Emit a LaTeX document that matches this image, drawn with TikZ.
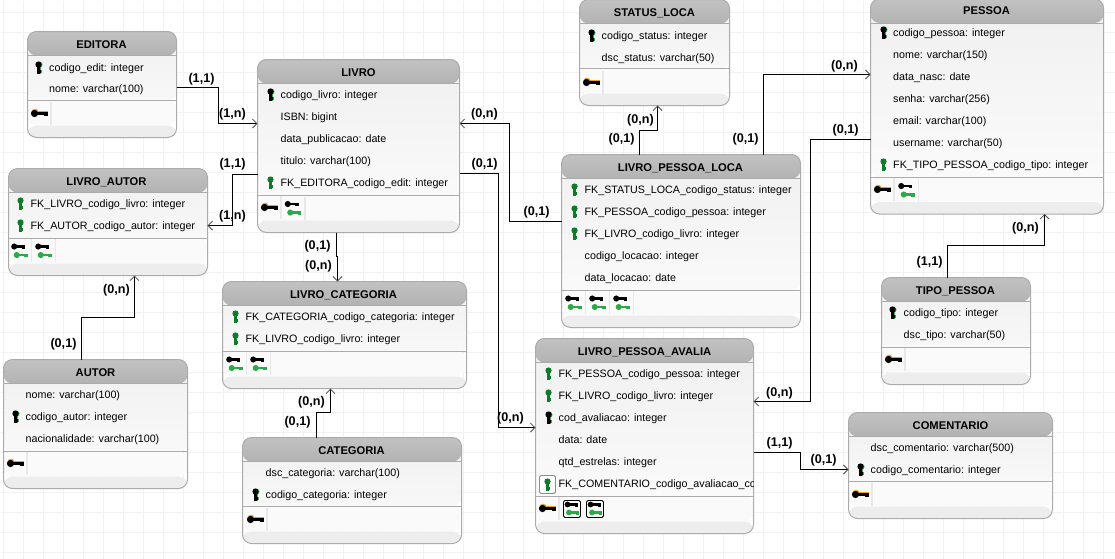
\documentclass[tikz,border=0pt]{standalone}
\usepackage{fontspec}
\setmainfont{Liberation Sans}
\usetikzlibrary{arrows.meta}
\definecolor{gridcol}{HTML}{F2F2F6}
\definecolor{framecol}{HTML}{ABABAB}
\definecolor{keygreen}{HTML}{2DA84A}
\definecolor{keydark}{HTML}{0F7A2A}
\definecolor{keyorange}{HTML}{F0A020}
\tikzset{
  gridline/.style={gridcol,line width=1},
  tablebox/.style={draw=framecol,line width=1,rounded corners=9,inner sep=0,outer sep=0,
    path picture={
      \shade [top color=black!6,bottom color=black!1]
        (path picture bounding box.north west) rectangle ([yshift=37]path picture bounding box.south east);
      \fill [black!2] ([yshift=12]path picture bounding box.south west) rectangle ([yshift=37]path picture bounding box.east |- path picture bounding box.south);
      \fill [black!7] (path picture bounding box.south west) rectangle ([yshift=12]path picture bounding box.south east);
      \shade [top color=black!24,bottom color=black!30]
        (path picture bounding box.north west) rectangle ([yshift=-24]path picture bounding box.north east);
      \draw [framecol,line width=1] ([yshift=-24]path picture bounding box.north west) -- ([yshift=-24]path picture bounding box.north east);
      \draw [framecol,line width=1] ([yshift=37]path picture bounding box.south west) -- ([yshift=37]path picture bounding box.south east);
    }},
  headtext/.style={inner sep=0,yshift=-1,font=\fontsize{11.2}{13}\selectfont\bfseries},
  rowtext/.style={inner sep=0,anchor=west,yshift=-1,text height=7.5,text depth=2,font=\fontsize{10.7}{13}\selectfont},
  cardtext/.style={inner sep=0,yshift=-1,font=\fontsize{12.6}{14}\selectfont\bfseries},
  link/.style={->,>={Straight Barb[length=4.5,width=9,line width=0.8,color=black!70]},line width=1,black},
  % key icons
  hkey/.pic={
    \fill [#1] (-5,0) circle (3.6);
    \fill [#1] (-5,-1.4) rectangle (8,1.4);
    \fill [#1] (4,0) rectangle (8,2.8);
  },
  vkey/.pic={
    \fill [#1] (0,-3) circle (3.1);
    \fill [#1] (-1.3,-3) rectangle (1.3,6);
    \fill [#1] (0,2) rectangle (2.6,5.5);
  },
  pkrow/.pic={
    \pic at (0.9,0.3) {vkey=keygreen};
    \pic at (0,0) {vkey=black};
  },
  fkrow/.pic={\pic at (0,0) {vkey=keydark};},
  pkicon/.pic={
    \fill [black!9] (11.5,-11.5) rectangle (13,11.5);
    \pic at (1.5,-1.2) {hkey=keyorange};
    \pic at (1,0) {hkey=black};
  },
  fkicon/.pic={
    \fill [black!9] (12,-11.5) rectangle (13.5,11.5);
    \pic [scale=0.85] at (0,-4) {hkey=black};
    \pic [scale=0.85] at (2.5,4.5) {hkey=keygreen};
  },
  fkmark/.pic={
    \pic [scale=0.8] at (-0.5,-4.5) {hkey=black};
    \pic [scale=0.8] at (1,3.5) {hkey=keygreen};
    \draw [black,line width=0.9,rounded corners=1.5] (-8.5,-8.5) rectangle (8.5,8.5);
  },
}
\begin{document}
\begin{tikzpicture}[x=1pt,y=-1pt]
  \useasboundingbox (0,0) rectangle (1115,558);
  \fill [white] (0,0) rectangle (1115,558);
\begin{scope}[shift={(0.5,0.5)}]
  \foreach \gridx in {3,23,...,1103} \draw [gridline] (\gridx,0) -- (\gridx,558);
  \foreach \gridy in {12,32,...,552} \draw [gridline] (0,\gridy) -- (1115,\gridy);
  % Node: EDITORA
\begin{scope}
  \node [tablebox,minimum width=149,minimum height=106] (EDITORA) at (101.5,84) {};
  \node [headtext] (EDITORA_head) at (101,43.5) {EDITORA};
  \pic at (38,67) {pkrow};
  \node [rowtext] (EDITORA_1) at (48.5,67) {codigo\_edit: integer};
  \node [rowtext] (EDITORA_2) at (48.5,88.5) {nome: varchar(100)};
  \pic at (38,113) {pkicon};
\end{scope}
  % Node: LIVRO
\begin{scope}
  \node [tablebox,minimum width=202,minimum height=173] (LIVRO) at (358,145.5) {};
  \node [headtext] (LIVRO_head) at (358,71.5) {LIVRO};
  \pic at (270,94) {pkrow};
  \node [rowtext] (LIVRO_1) at (280,94.5) {codigo\_livro: integer};
  \node [rowtext] (LIVRO_2) at (280,116.5) {ISBN: bigint};
  \node [rowtext] (LIVRO_3) at (280,138.5) {data\_publicacao: date};
  \node [rowtext] (LIVRO_4) at (280,160.5) {titulo: varchar(100)};
  \pic at (270,182) {fkrow};
  \node [rowtext] (LIVRO_5) at (280,182.5) {FK\_EDITORA\_codigo\_edit: integer};
  \pic at (268,207) {pkicon};
  \pic at (291.5,207.5) {fkicon};
\end{scope}
  % Node: STATUS_LOCA
\begin{scope}
  \node [tablebox,minimum width=150,minimum height=106] (STATUS_LOCA) at (654,52) {};
  \node [headtext] (STATUS_LOCA_head) at (654,12) {STATUS\_LOCA};
  \pic at (591,35) {pkrow};
  \node [rowtext] (STATUS_LOCA_1) at (601,35.5) {codigo\_status: integer};
  \node [rowtext] (STATUS_LOCA_2) at (601,57.5) {dsc\_status: varchar(50)};
  \pic at (590,82) {pkicon};
\end{scope}
  % Node: PESSOA
\begin{scope}
  \node [tablebox,minimum width=233,minimum height=215] (PESSOA) at (986.5,106) {};
  \node [headtext] (PESSOA_head) at (986,9.5) {PESSOA};
  \pic at (883,32) {pkrow};
  \node [rowtext] (PESSOA_1) at (892.5,32.5) {codigo\_pessoa: integer};
  \node [rowtext] (PESSOA_2) at (892.5,54.5) {nome: varchar(150)};
  \node [rowtext] (PESSOA_3) at (892.5,76.5) {data\_nasc: date};
  \node [rowtext] (PESSOA_4) at (892.5,98.5) {senha: varchar(256)};
  \node [rowtext] (PESSOA_5) at (892.5,120.5) {email: varchar(100)};
  \node [rowtext] (PESSOA_6) at (892.5,142.5) {username: varchar(50)};
  \pic at (883,164) {fkrow};
  \node [rowtext] (PESSOA_7) at (892.5,164.5) {FK\_TIPO\_PESSOA\_codigo\_tipo: integer};
  \pic at (881,189) {pkicon};
  \pic at (905,189.5) {fkicon};
\end{scope}
  % Node: LIVRO_AUTOR
\begin{scope}
  \node [tablebox,minimum width=199,minimum height=107] (LIVRO_AUTOR) at (107.5,221.5) {};
  \node [headtext] (LIVRO_AUTOR_head) at (106,180.5) {LIVRO\_AUTOR};
  \pic at (20,203) {fkrow};
  \node [rowtext] (LIVRO_AUTOR_1) at (30,203.5) {FK\_LIVRO\_codigo\_livro: integer};
  \pic at (20,225) {fkrow};
  \node [rowtext] (LIVRO_AUTOR_2) at (30,225.5) {FK\_AUTOR\_codigo\_autor: integer};
  \pic at (18,250) {fkicon};
  \pic at (42,250) {fkicon};
\end{scope}
  % Node: LIVRO_PESSOA_LOCA
\begin{scope}
  \node [tablebox,minimum width=239,minimum height=173] (LIVRO_PESSOA_LOCA) at (680.5,240.5) {};
  \node [headtext] (LIVRO_PESSOA_LOCA_head) at (680,166.5) {LIVRO\_PESSOA\_LOCA};
  \pic at (574,189) {fkrow};
  \node [rowtext] (LIVRO_PESSOA_LOCA_1) at (584,189.5) {FK\_STATUS\_LOCA\_codigo\_status: integer};
  \pic at (574,211) {fkrow};
  \node [rowtext] (LIVRO_PESSOA_LOCA_2) at (584,211.5) {FK\_PESSOA\_codigo\_pessoa: integer};
  \pic at (574,233) {fkrow};
  \node [rowtext] (LIVRO_PESSOA_LOCA_3) at (584,233.5) {FK\_LIVRO\_codigo\_livro: integer};
  \node [rowtext] (LIVRO_PESSOA_LOCA_4) at (584,255.5) {codigo\_locacao: integer};
  \node [rowtext] (LIVRO_PESSOA_LOCA_5) at (584,277.5) {data\_locacao: date};
  \pic at (572,302) {fkicon};
  \pic at (596,302) {fkicon};
  \pic at (620,302) {fkicon};
\end{scope}
  % Node: LIVRO_CATEGORIA
\begin{scope}
  \node [tablebox,minimum width=244,minimum height=107] (LIVRO_CATEGORIA) at (344,334.5) {};
  \node [headtext] (LIVRO_CATEGORIA_head) at (343,293.5) {LIVRO\_CATEGORIA};
  \pic at (235,316) {fkrow};
  \node [rowtext] (LIVRO_CATEGORIA_1) at (245,316.5) {FK\_CATEGORIA\_codigo\_categoria: integer};
  \pic at (235,338) {fkrow};
  \node [rowtext] (LIVRO_CATEGORIA_2) at (245,338.5) {FK\_LIVRO\_codigo\_livro: integer};
  \pic at (233,363) {fkicon};
  \pic at (257,363) {fkicon};
\end{scope}
  % Node: AUTOR
\begin{scope}
  \node [tablebox,minimum width=184,minimum height=129] (AUTOR) at (95,423.5) {};
  \node [headtext] (AUTOR_head) at (95,371.5) {AUTOR};
  \node [rowtext] (AUTOR_1) at (25,394.5) {nome: varchar(100)};
  \pic at (15,416) {pkrow};
  \node [rowtext] (AUTOR_2) at (25,416.5) {codigo\_autor: integer};
  \node [rowtext] (AUTOR_3) at (25,438.5) {nacionalidade: varchar(100)};
  \pic at (14,463) {pkicon};
\end{scope}
  % Node: CATEGORIA
\begin{scope}
  \node [tablebox,minimum width=219,minimum height=106] (CATEGORIA) at (351.5,490) {};
  \node [headtext] (CATEGORIA_head) at (351,449.5) {CATEGORIA};
  \node [rowtext] (CATEGORIA_1) at (265,472.5) {dsc\_categoria: varchar(100)};
  \pic at (255,494) {pkrow};
  \node [rowtext] (CATEGORIA_2) at (265,494.5) {codigo\_categoria: integer};
  \pic at (254,519) {pkicon};
\end{scope}
  % Node: LIVRO_PESSOA_AVALIA
\begin{scope}
  \node [tablebox,minimum width=218,minimum height=195] (LIVRO_PESSOA_AVALIA) at (644,435.5) {};
  \node [headtext] (LIVRO_PESSOA_AVALIA_head) at (644,350.5) {LIVRO\_PESSOA\_AVALIA};
  \pic at (548,373) {fkrow};
  \node [rowtext] (LIVRO_PESSOA_AVALIA_1) at (558,373.5) {FK\_PESSOA\_codigo\_pessoa: integer};
  \pic at (548,395) {fkrow};
  \node [rowtext] (LIVRO_PESSOA_AVALIA_2) at (558,395.5) {FK\_LIVRO\_codigo\_livro: integer};
  \pic at (548,417) {pkrow};
  \node [rowtext] (LIVRO_PESSOA_AVALIA_3) at (558,417.5) {cod\_avaliacao: integer};
  \node [rowtext] (LIVRO_PESSOA_AVALIA_4) at (558,439.5) {data: date};
  \node [rowtext] (LIVRO_PESSOA_AVALIA_5) at (558,461.5) {qtd\_estrelas: integer};
  \fill [white,draw=black!45,line width=0.8,rounded corners=1.5] (539,475) rectangle (555,493);
  \pic at (547,484) {fkrow};
  \begin{scope}
    \clip (530,472) rectangle (752.5,495);
    \node [rowtext] (LIVRO_PESSOA_AVALIA_6) at (558,483.5) {FK\_COMENTARIO\_codigo\_avaliacao\_codigo};
  \end{scope}
  \pic at (546,508) {pkicon};
  \pic at (571.5,508.5) {fkmark};
  \pic at (594.5,508.5) {fkmark};
\end{scope}
  % Node: TIPO_PESSOA
\begin{scope}
  \node [tablebox,minimum width=149,minimum height=107] (TIPO_PESSOA) at (955.5,330.5) {};
  \node [headtext] (TIPO_PESSOA_head) at (955,289.5) {TIPO\_PESSOA};
  \pic at (892,312) {pkrow};
  \node [rowtext] (TIPO_PESSOA_1) at (903,312.5) {codigo\_tipo: integer};
  \node [rowtext] (TIPO_PESSOA_2) at (903,334.5) {dsc\_tipo: varchar(50)};
  \pic at (892,359) {pkicon};
\end{scope}
  % Node: COMENTARIO
\begin{scope}
  \node [tablebox,minimum width=204,minimum height=106] (COMENTARIO) at (950,465) {};
  \node [headtext] (COMENTARIO_head) at (950,424.5) {COMENTARIO};
  \node [rowtext] (COMENTARIO_1) at (870,447.5) {dsc\_comentario: varchar(500)};
  \pic at (860,469) {pkrow};
  \node [rowtext] (COMENTARIO_2) at (870,469.5) {codigo\_comentario: integer};
  \pic at (859,494) {pkicon};
\end{scope}
  % Edge: EDITORA -> LIVRO
  \draw [link] ([yshift=-3]EDITORA.east) -- ++(42,0) |- ([yshift=22.5]LIVRO.west);
  \node [cardtext] (EDITORA_LIVRO_a) at (201,78) {(1,1)};
  \node [cardtext] (EDITORA_LIVRO_b) at (232,113) {(1,n)};
  % Edge: LIVRO -> LIVRO_AUTOR
  \draw [link] ([yshift=-28.5]LIVRO.west) -- ++(-25,0) |- ([yshift=-3.5]LIVRO_AUTOR.east);
  \node [cardtext] (LIVRO_AUTOR_a) at (232,163) {(1,1)};
  \node [cardtext] (LIVRO_AUTOR_b) at (232,215) {(1,n)};
  % Edge: LIVRO -> LIVRO_CATEGORIA
  \draw [link] ([xshift=-22]LIVRO.south) -- ++(0,24) -- ++(1,0) -- ([xshift=-7]LIVRO_CATEGORIA.north);
  \node [cardtext] (LIVRO_CATEGORIA_a) at (317,245) {(0,1)};
  \node [cardtext] (LIVRO_CATEGORIA_b) at (318,265) {(0,n)};
  % Edge: CATEGORIA -> LIVRO_CATEGORIA
  \draw [link] ([xshift=-36]CATEGORIA.north) -- ++(0,-25) -| ([xshift=-14]LIVRO_CATEGORIA.south);
  \node [cardtext] (CATEGORIA_LINK_a) at (311,401) {(0,n)};
  \node [cardtext] (CATEGORIA_LINK_b) at (297,421) {(0,1)};
  % Edge: AUTOR -> LIVRO_AUTOR
  \draw [link] ([xshift=-14]AUTOR.north) -- ++(0,-42) -| ([xshift=26.5]LIVRO_AUTOR.south);
  \node [cardtext] (AUTOR_LINK_a) at (63,343) {(0,1)};
  \node [cardtext] (AUTOR_LINK_b) at (116,289) {(0,n)};
  % Edge: LIVRO_PESSOA_LOCA -> LIVRO
  \draw [link] ([yshift=19.5]LIVRO_PESSOA_LOCA.west) -- ++(-52,0) |- ([yshift=22.5]LIVRO.east);
  \node [cardtext] (LOCA_LIVRO_a) at (484,113) {(0,n)};
  \node [cardtext] (LOCA_LIVRO_b) at (536,211) {(0,1)};
  % Edge: LIVRO -> LIVRO_PESSOA_AVALIA
  \draw [link] ([yshift=-27.5]LIVRO.east) -- ++(39,0) |- ([yshift=8.5]LIVRO_PESSOA_AVALIA.west);
  \node [cardtext] (AVALIA_LIVRO_a) at (484,163) {(0,1)};
  \node [cardtext] (AVALIA_LIVRO_b) at (510,417) {(0,n)};
  % Edge: LIVRO_PESSOA_LOCA -> STATUS_LOCA
  \draw [link] ([xshift=-41.5]LIVRO_PESSOA_LOCA.north) -- ++(0,-24) -| ([xshift=3]STATUS_LOCA.south);
  \node [cardtext] (LOCA_STATUS_a) at (640,119) {(0,n)};
  \node [cardtext] (LOCA_STATUS_b) at (621,138) {(0,1)};
  % Edge: LIVRO_PESSOA_LOCA -> PESSOA
  \draw [link] ([xshift=82.5]LIVRO_PESSOA_LOCA.north) |- ([yshift=32]PESSOA.west);
  \node [cardtext] (LOCA_PESSOA_a) at (745,138) {(0,1)};
  \node [cardtext] (LOCA_PESSOA_b) at (844,65) {(0,n)};
  % Edge: PESSOA -> LIVRO_PESSOA_AVALIA
  \draw [link] ([yshift=-33]PESSOA.west) -- ++(-60,0) |- ([yshift=34.5]LIVRO_PESSOA_AVALIA.east);
  \node [cardtext] (AVALIA_PESSOA_a) at (845,129) {(0,1)};
  \node [cardtext] (AVALIA_PESSOA_b) at (779,392) {(0,n)};
  % Edge: TIPO_PESSOA -> PESSOA
  \draw [link] ([xshift=-8.5]TIPO_PESSOA.north) -- ++(0,-32) -| ([xshift=57.5]PESSOA.south);
  \node [cardtext] (TIPO_LINK_a) at (929,261) {(1,1)};
  \node [cardtext] (TIPO_LINK_b) at (1025,227) {(0,n)};
  % Edge: LIVRO_PESSOA_AVALIA -> COMENTARIO
  \draw [link] ([yshift=-16.5]LIVRO_PESSOA_AVALIA.east) -- ++(47,0) |- ([yshift=-4]COMENTARIO.west);
  \node [cardtext] (AVALIA_COMENTARIO_a) at (779,442) {(1,1)};
  \node [cardtext] (AVALIA_COMENTARIO_b) at (823,459) {(0,1)};
\end{scope}
%
\end{tikzpicture}
\end{document}
